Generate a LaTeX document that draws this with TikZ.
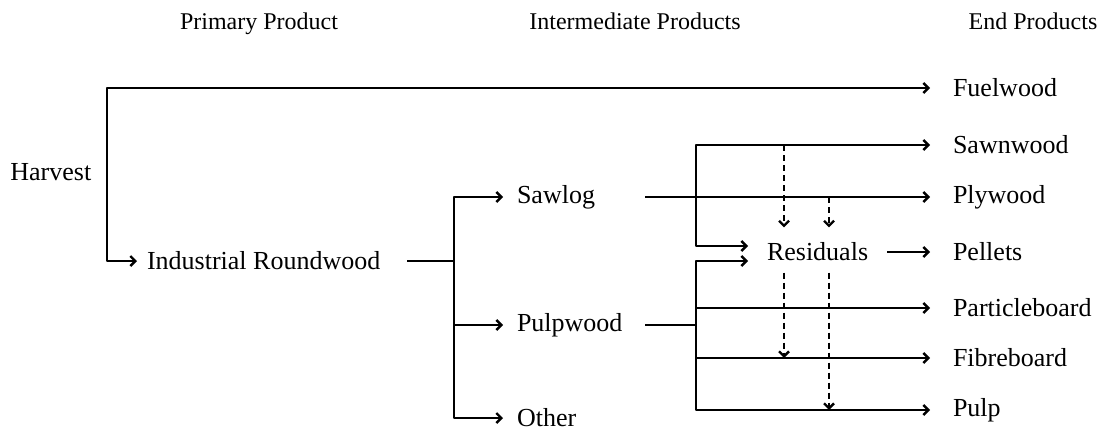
\documentclass[tikz,border=0pt]{standalone}
\usepackage{fontspec}
\setmainfont{Liberation Serif}
\usetikzlibrary{arrows.meta}
\tikzset{
  flow/.style={-{Straight Barb[length=2.5pt,width=5pt,line width=1.2pt]}, line width=0.6pt},
  side/.style={flow, dash pattern=on 3pt off 2pt},
  hdr/.style={anchor=base, inner sep=0pt, font=\fontsize{12}{14}\selectfont},
  lbl/.style={anchor=west, inner sep=0pt, font=\fontsize{13}{15}\selectfont},
  midp/.style={lbl, outer xsep=7pt},
  endp/.style={lbl, outer xsep=11.5pt}
}
\begin{document}
\begin{tikzpicture}[x=0.5pt, y=-0.5pt, line join=round, line cap=butt]
  \useasboundingbox (0,0) rectangle (1097,434);
  % column heads
  \node[hdr] (hprim) at (259,29) {Primary Product};
  \node[hdr] (hint)  at (635,29) {Intermediate Products};
  \node[hdr] (hend)  at (1033,29) {End Products};
  % primary and intermediate products
  \node[lbl] (harvest) at (10,172) {Harvest};
  \node[lbl, outer xsep=5pt] (indrw) at (137,261) {Industrial Roundwood};
  \node[midp] (sawlog)   at (503,197) {Sawlog};
  \node[midp] (pulpwood) at (503,325) {Pulpwood};
  \node[midp] (other)    at (503,418) {Other};
  \node[lbl, outer xsep=9.5pt] (resid) at (748,252) {Residuals};
  % end products
  \node[endp] (fuelwood) at (930,88)  {Fuelwood};
  \node[endp] (sawnwood) at (930,145) {Sawnwood};
  \node[endp] (plywood)  at (930,197) {Plywood};
  \node[endp] (pellets)  at (930,252) {Pellets};
  \node[endp] (particle) at (930,308) {Particleboard};
  \node[endp] (fibre)    at (930,358) {Fibreboard};
  \node[endp] (pulp)     at (930,410) {Pulp};
  % branch points
  \coordinate (hv) at (107,172);
  \coordinate (irw) at (454,261);
  \coordinate (sl) at (645,197);
  \coordinate (pw) at (645,325);
  \coordinate (ja) at (696,197);
  \coordinate (jb) at (696,325);
  \coordinate (c1) at (784,0);
  \coordinate (c2) at (829,0);
  % harvest split
  \draw[flow] (hv) |- (fuelwood.west);
  \draw[flow] (hv) |- (indrw.west);
  % roundwood split
  \draw[line width=0.6pt, shorten <=8.5pt] (indrw.east) -- (irw);
  \draw[flow] (irw) |- (sawlog.west);
  \draw[flow] (irw) |- (other.west);
  \draw[flow] (irw |- pulpwood.west) -- (pulpwood.west);
  % sawlog
  \draw[flow] (sl) -- (plywood.west);
  \draw[flow] (ja) |- (sawnwood.west);
  \draw[flow] (ja) |- ([yshift=3pt]resid.west);
  % pulpwood
  \draw[line width=0.6pt] (pw) -- (jb);
  \draw[flow] (jb) |- ([yshift=-4.5pt]resid.west);
  \draw[flow] (jb) |- (pulp.west);
  \draw[flow] (jb |- particle.west) -- (particle.west);
  \draw[flow] (jb |- fibre.west) -- (fibre.west);
  % residuals
  \draw[flow] (resid.east) -- (pellets.west);
  \draw[side, shorten >=7.5pt] (c1 |- sawnwood.west) -- (c1 |- resid.north);
  \draw[side, shorten >=7.5pt] (c2 |- plywood.west) -- (c2 |- resid.north);
  \draw[side, shorten <=5.5pt] (c1 |- resid.south) -- (c1 |- fibre.west);
  \draw[side, shorten <=5.5pt] (c2 |- resid.south) -- (c2 |- pulp.west);
\end{tikzpicture}
\end{document}
